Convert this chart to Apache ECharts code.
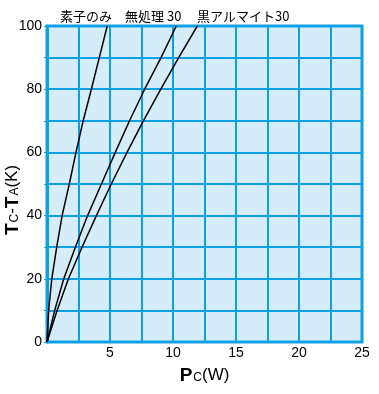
<!DOCTYPE html>
<html><head><meta charset="utf-8">
<script src="https://cdn.jsdelivr.net/npm/echarts@6/dist/echarts.min.js"></script>
<style>html,body{margin:0;padding:0;background:#fff}#c{width:379px;height:394px}</style>
</head><body><div id="c"></div>
<script>
// Temperature rise levels (Tc-Ta, K)
const tempRise = [0, 10, 20, 30, 40, 50, 60, 70, 80, 90, 100];
// Power dissipation Pc (W) at each temperature level
const pcElementOnly = [0, 0.13, 0.38, 0.77, 1.2, 1.77, 2.3, 2.87, 3.52, 4.15, 4.78];
const pcUntreated30 = [0, 0.61, 1.33, 2.25, 3.22, 4.32, 5.42, 6.55, 7.75, 9.05, 10.26];
const pcBlackAlumite30 = [0, 0.8, 1.7, 2.78, 3.92, 5.1, 6.35, 7.65, 9.03, 10.45, 11.93];
const seriesNames = ['素子のみ', '無処理 30', '黒アルマイト30'];
const xTicks = [5, 10, 15, 20, 25];
const yTicks = [0, 20, 40, 60, 80, 100];

const chart = echarts.init(document.getElementById('c'), null, {renderer: 'canvas'});
const blue = '#0ea0e4';
const toPairs = xs => xs.map((x, i) => [x, tempRise[i]]);
const font = 'Liberation Sans, Arial, sans-serif';
const jp = '"Noto Sans CJK JP", sans-serif';
const rich = {
  b: {fontSize: 19, fontWeight: 'bold', fontFamily: font, color: '#000'},
  s: {fontSize: 12, fontFamily: font, color: '#000', padding: [4, 0, 0, 1]},
  n: {fontSize: 17, fontFamily: font, color: '#000'}
};

chart.setOption({
  animation: false,
  grid: {left: 47, right: 17, top: 26, bottom: 52, containLabel: false, outerBoundsMode: 'none',
    show: true, backgroundColor: '#d5ecf9', borderColor: blue, borderWidth: 3},
  xAxis: {
    type: 'value', min: 0, max: 25, interval: 2.5,
    axisLine: {show: false}, axisTick: {show: false},
    splitLine: {show: true, lineStyle: {color: blue, width: 2}},
    axisLabel: {color: '#000', fontFamily: font, fontSize: 14, margin: 4,
      formatter: v => xTicks.includes(v) ? String(v) : ''},
    name: '{b|P}{s|C}{n|(W)}', nameLocation: 'middle', nameGap: 24, nameMoveOverlap: false,
    nameTextStyle: {rich: rich}
  },
  yAxis: {
    type: 'value', min: 0, max: 100, interval: 10,
    axisLine: {show: true, lineStyle: {color: blue, width: 3}},
    axisTick: {show: true, length: 3, lineStyle: {color: blue, width: 1}},
    splitLine: {show: true, lineStyle: {color: blue, width: 2}},
    axisLabel: {color: '#000', fontFamily: font, fontSize: 14, margin: 5,
      formatter: v => yTicks.includes(v) ? String(v) : ''},
    name: '{b|T}{s|C}{n|-}{b|T}{s|A}{n|(K)}', nameLocation: 'middle', nameGap: 25, nameRotate: 90,
    nameMoveOverlap: false,
    nameTextStyle: {rich: rich, padding: [0, 32, 0, 0]}
  },
  series: [pcElementOnly, pcUntreated30, pcBlackAlumite30].map((xs, i) => ({
    name: seriesNames[i], type: 'line', data: toPairs(xs), symbol: 'none', smooth: false,
    lineStyle: {color: '#000', width: 1.5}
  })),
  graphic: [
    {type: 'text', left: 60, top: 10, style: {text: seriesNames[0], font: '13px ' + jp, fill: '#000'}},
    {type: 'text', left: 125, top: 10, style: {text: seriesNames[1], font: '13px ' + jp, fill: '#000'}},
    {type: 'text', left: 197, top: 10, style: {text: seriesNames[2], font: '13px ' + jp, fill: '#000'}}
  ]
});
</script></body></html>
